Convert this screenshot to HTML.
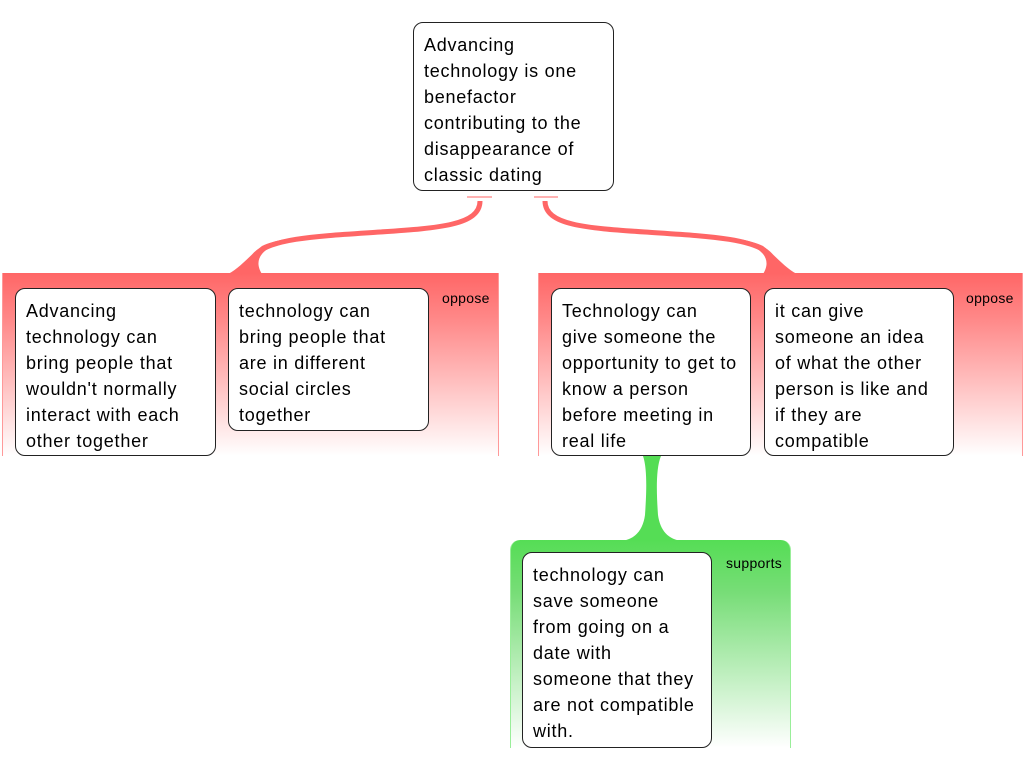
<!DOCTYPE html>
<html><head><style>
body{margin:0;width:1024px;height:768px;background:#fff;position:relative;overflow:hidden;font-family:"Liberation Sans",sans-serif}
.g{position:absolute;border-left:1px solid #f99;border-right:1px solid #f99}
.red{background:linear-gradient(#f66 0%,#f88 25%,#fff 100%)}
.green{background:linear-gradient(#5d5 0%,#7d7 25%,#fff 100%);border-color:#9e9;border-radius:10px 10px 0 0}
.b{position:absolute;box-sizing:border-box;background:#fff;border:1px solid #222;border-radius:10px;padding:9px 6px 0 10px;font-size:18px;line-height:26px;color:#000;letter-spacing:0.75px;white-space:nowrap}
.l{position:absolute;font-size:14px;color:#000;letter-spacing:0.3px}
</style></head><body>
<div class="g red" style="left:2px;top:273px;width:495px;height:183px"></div>
<div class="g red" style="left:538px;top:273px;width:483px;height:183px"></div>
<div class="g green" style="left:510px;top:540px;width:279px;height:208px"></div>
<svg width="1024" height="768" style="position:absolute;left:0;top:0">
<line x1="467" y1="197" x2="492" y2="197" stroke="#f66" stroke-width="1"/>
<line x1="534" y1="197" x2="558" y2="197" stroke="#f66" stroke-width="1"/>
<path d="M480 201 C480 225 440 228 380 232 C320 236 270 238 255 255 L240 273" fill="none" stroke="#f66" stroke-width="5"/>
<path d="M228 274 C240 268 250 255 262 246 C275 240 290 238 300 238 C270 243 250 255 262 274 Z" fill="#f66"/>
<path d="M545 201 C545 225 585 228 645 232 C705 236 755 238 770 255 L785 273" fill="none" stroke="#f66" stroke-width="5"/>
<path d="M797 274 C785 268 775 255 763 246 C750 240 735 238 725 238 C755 243 775 255 763 274 Z" fill="#f66"/>
<path d="M643 456 C648 470 646 500 645 515 C643 530 635 540 620 541 L683 541 C668 540 660 530 658 515 C657 500 655 470 661 456 Z" fill="#5d5"/>
</svg>
<div class="b" style="left:413px;top:22px;width:201px;height:169px">Advancing<br>technology is one<br>benefactor<br>contributing to the<br>disappearance of<br>classic dating</div>
<div class="b" style="left:15px;top:288px;width:201px;height:168px">Advancing<br>technology can<br>bring people that<br>wouldn't normally<br>interact with each<br>other together</div>
<div class="b" style="left:228px;top:288px;width:201px;height:143px">technology can<br>bring people that<br>are in different<br>social circles<br>together</div>
<div class="b" style="left:551px;top:288px;width:200px;height:168px">Technology can<br>give someone the<br>opportunity to get to<br>know a person<br>before meeting in<br>real life</div>
<div class="b" style="left:764px;top:288px;width:190px;height:168px">it can give<br>someone an idea<br>of what the other<br>person is like and<br>if they are<br>compatible</div>
<div class="b" style="left:522px;top:552px;width:190px;height:196px">technology can<br>save someone<br>from going on a<br>date with<br>someone that they<br>are not compatible<br>with.</div>
<div class="l" style="left:442px;top:290px">oppose</div>
<div class="l" style="left:966px;top:290px">oppose</div>
<div class="l" style="left:726px;top:555px">supports</div>
</body></html>
